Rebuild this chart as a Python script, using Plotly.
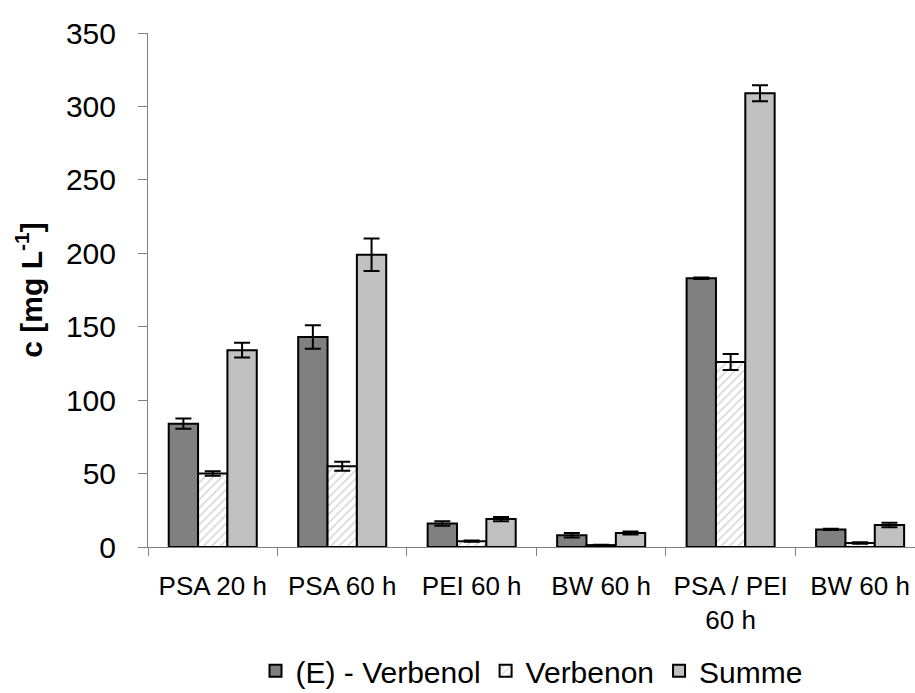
import plotly.graph_objects as go

categories = ["PSA 20 h", "PSA 60 h", "PEI 60 h", "BW 60 h", "PSA / PEI<br>60 h", "BW 60 h"]
x_pos = [0, 1, 2, 3, 4, 5]

verbenol = [84, 143, 16, 8, 183, 12]
verbenol_err = [3.5, 8, 1.5, 1.5, 0.5, 0.5]
verbenon = [50, 55, 4, 1.3, 126, 2.7]
verbenon_err = [1.5, 3, 0.5, 0.3, 5.5, 0.5]
summe = [134, 199, 19, 9.5, 309, 15]
summe_err = [5, 11, 1.5, 1, 5.5, 1.5]

FONT = "Liberation Sans, Arial, sans-serif"
line = dict(color="black", width=2)
err = lambda a: dict(type="data", array=a, visible=True, color="black", thickness=2, width=8)

fig = go.Figure()
fig.add_trace(go.Bar(name="(E) - Verbenol", x=x_pos, y=verbenol, error_y=err(verbenol_err),
                     marker=dict(color="#808080", line=line)))
fig.add_trace(go.Bar(name="Verbenon", x=x_pos, y=verbenon, error_y=err(verbenon_err),
                     marker=dict(color="white", line=line,
                                 pattern=dict(shape="/", fgcolor="#a8a8a8", bgcolor="white",
                                              size=6, solidity=0.25))))
fig.add_trace(go.Bar(name="Summe", x=x_pos, y=summe, error_y=err(summe_err),
                     marker=dict(color="#c0c0c0", line=line)))

fig.update_layout(
    width=915, height=693,
    margin=dict(l=148, r=0, t=33, b=146, autoexpand=False),
    plot_bgcolor="white", paper_bgcolor="white",
    barmode="group", bargap=0.32, bargroupgap=0,
    font=dict(family=FONT, color="black"),
    showlegend=True,
    legend=dict(orientation="h", x=0.5, xanchor="center", xref="paper",
                y=0.032, yanchor="middle", yref="container",
                font=dict(size=30, family=FONT), itemwidth=30, traceorder="normal"),
)
fig.update_xaxes(
    range=[-0.5, 5.424], tickmode="array", tickvals=x_pos, ticktext=categories,
    ticks="", showline=True, linecolor="#808080", linewidth=1, showgrid=False, zeroline=False,
    tickfont=dict(size=26, family=FONT), ticklabelstandoff=16, automargin=False,
    minor=dict(tickvals=[-0.5, 0.5, 1.5, 2.5, 3.5, 4.5, 5.5], ticks="outside", ticklen=8,
               tickcolor="#808080", tickwidth=1, showgrid=False),
)
fig.update_yaxes(
    range=[0, 350], dtick=50, tick0=0, ticks="outside", ticklen=9, tickcolor="#808080",
    showline=True, linecolor="#808080", linewidth=1, showgrid=False, zeroline=False,
    tickfont=dict(size=30, family=FONT), ticklabelstandoff=16, automargin=False,
    title=dict(text="<b>c [mg L<sup>-1</sup>]</b>", font=dict(size=30, family=FONT), standoff=14),
)

fig.write_html("out.html")
